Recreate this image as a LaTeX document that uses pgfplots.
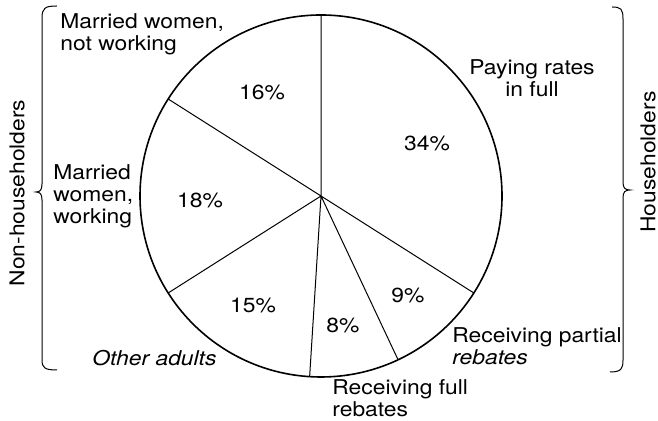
\documentclass[border=0pt]{standalone}
\usepackage{fontspec}
\setmainfont{TeX Gyre Heros}[FakeStretch=1.12]
\usepackage{pgfplots}
\pgfplotsset{compat=1.18}
\usepgfplotslibrary{polar}

\tikzset{lbl/.style={font=\fontsize{10.2}{11.1}\selectfont, inner sep=0pt}}

\begin{document}
\begin{tikzpicture}
\begin{axis}[
    x=0.5pt, y=0.5pt,
    xmin=-321, xmax=337,
    ymin=-225, ymax=196,
    hide axis,
    clip=false,
]
% bounding box = picture size
\path (axis cs:-321,-225) rectangle (axis cs:337,196);

% pie outline
\draw[line width=0.8pt] (axis cs:0,0) circle[radius=181];

% slice boundaries (angle, radius): 34, 9, 8, 15, 18, 16 per cent clockwise from top
\addplot[data cs=polar, black, line width=0.5pt, no marks] coordinates {
  (90,181) (0,0) (-32.4,181) (0,0) (-64.8,181) (0,0)
  (-93.6,181) (0,0) (-147.6,181) (0,0) (147.6,181)
};

% percentages
\node[lbl] at (axis cs:106,53) {34\%};
\node[lbl] at (axis cs:87,-99) {9\%};
\node[lbl] at (axis cs:22,-129) {8\%};
\node[lbl] at (axis cs:-68,-109) {15\%};
\node[lbl] at (axis cs:-121,-4) {18\%};
\node[lbl] at (axis cs:-59,104) {16\%};

% slice names
\node[lbl, align=center] at (axis cs:211,118) {Paying rates\\in full};
\node[lbl, align=left, anchor=west] at (axis cs:131,-150) {Receiving partial\\\textit{rebates}};
\node[lbl, align=left, anchor=west] at (axis cs:11,-202) {Receiving full\\rebates};
\node[lbl, anchor=west] at (axis cs:-229,-162) {\textit{Other adults}};
\node[lbl, align=left, anchor=west] at (axis cs:-268,0) {Married\\women,\\working};
\node[lbl, align=left, anchor=west] at (axis cs:-261,162) {Married women,\\not working};

% braces
\draw[line width=0.5pt] (axis cs:-264,190) .. controls (axis cs:-276,190) and (axis cs:-279,188) .. (axis cs:-279,178)
  -- (axis cs:-279,12) .. controls (axis cs:-279,6) and (axis cs:-281,4) .. (axis cs:-285,4)
  .. controls (axis cs:-281,4) and (axis cs:-279,2) .. (axis cs:-279,-4)
  -- (axis cs:-279,-164) .. controls (axis cs:-279,-172) and (axis cs:-276,-174) .. (axis cs:-264,-174);
\draw[line width=0.5pt] (axis cs:291,189) .. controls (axis cs:300,189) and (axis cs:302,187) .. (axis cs:302,177)
  -- (axis cs:302,14) .. controls (axis cs:302,8) and (axis cs:304,6) .. (axis cs:309,6)
  .. controls (axis cs:304,6) and (axis cs:302,4) .. (axis cs:302,-2)
  -- (axis cs:302,-164) .. controls (axis cs:302,-173) and (axis cs:300,-176) .. (axis cs:289,-176);

% group labels
\node[lbl, rotate=90] at (axis cs:-304,3) {Non-householders};
\node[lbl, rotate=90] at (axis cs:327,34) {Householders};
\end{axis}
\end{tikzpicture}
\end{document}
